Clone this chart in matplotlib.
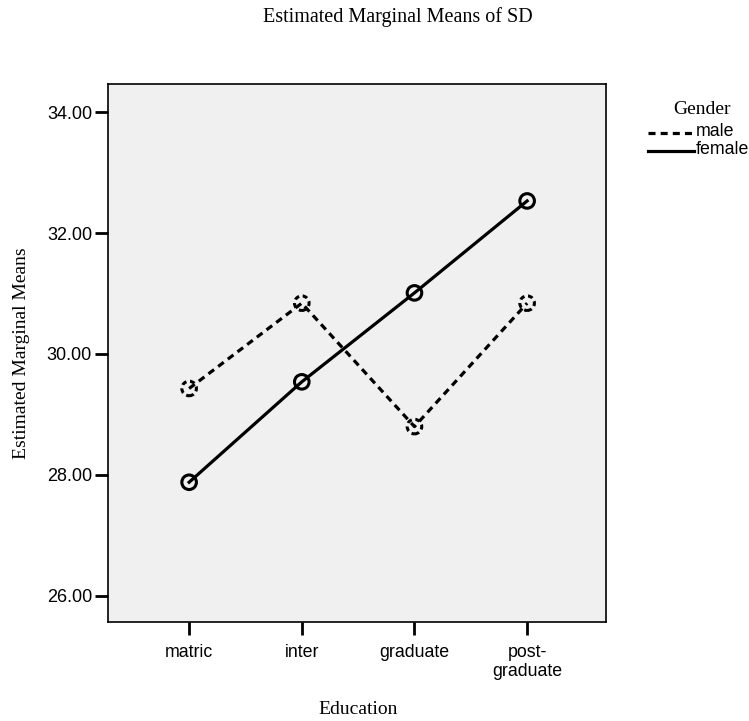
import matplotlib
matplotlib.use("Agg")
import matplotlib.pyplot as plt
from matplotlib.lines import Line2D

categories = ["matric", "inter", "graduate", "post-\ngraduate"]
male = [29.43, 30.84, 28.80, 30.84]
female = [27.88, 29.54, 31.01, 32.53]
yticks = [26.0, 28.0, 30.0, 32.0, 34.0]

serif = "Liberation Serif"
sans = "Liberation Sans"

W, H = 749, 721
fig = plt.figure(figsize=(W / 100, H / 100), dpi=100)
ax = fig.add_axes([108 / W, 1 - 622 / H, (606 - 108) / W, (622 - 84) / H])
ax.set_facecolor("#F0F0F0")
x = list(range(len(categories)))

dash = (0, (2.2, 1.6))
ax.plot(x, male, color="black", lw=2.3, ls=dash, zorder=3)
ax.scatter(x, male, s=110, facecolors="none", edgecolors="black", linewidths=2.2,
           linestyles=(0, (1.6, 1.2)), zorder=4)
ax.plot(x, female, color="black", lw=2.3, ls="-", zorder=3)
ax.scatter(x, female, s=110, facecolors="none", edgecolors="black", linewidths=2.2, zorder=4)

ax.set_xlim(-0.72, 3.70)
ax.set_ylim(25.57, 34.463)
ax.set_xticks(x)
ax.set_xticklabels(categories, fontfamily=sans, fontsize=12.8, linespacing=1.2)
ax.set_yticks(yticks)
ax.set_yticklabels([f"{v:.2f}" for v in yticks], fontfamily=sans, fontsize=13)
ax.tick_params(axis="both", length=9.5, width=2, direction="out")
ax.tick_params(axis="x", pad=6)
ax.tick_params(axis="y", pad=2)
for s in ax.spines.values():
    s.set_linewidth(1.2)

fig.text(358 / W, 1 - 709 / H, "Education", fontfamily=serif, fontsize=14,
         ha="center", va="center")
fig.text(22 / W, 1 - 353 / H, "Estimated Marginal Means", fontfamily=serif, fontsize=14,
         ha="center", va="center", rotation=90)
fig.text(398 / W, 1 - 17 / H, "Estimated Marginal Means of SD", fontfamily=serif,
         fontsize=14.5, ha="center", va="center")

# legend
fig.text(702 / W, 1 - 110 / H, "Gender", fontfamily=serif, fontsize=14,
         ha="center", va="center")
fig.add_artist(Line2D([648 / W, 694 / W], [1 - 133 / H, 1 - 133 / H], color="black",
                      lw=2.3, ls=dash, transform=fig.transFigure))
fig.text(696 / W, 1 - 132 / H, "male", fontfamily=sans, fontsize=12.8, ha="left", va="center")
fig.add_artist(Line2D([648 / W, 694 / W], [1 - 151 / H, 1 - 151 / H], color="black",
                      lw=2.3, transform=fig.transFigure))
fig.text(696 / W, 1 - 150 / H, "female", fontfamily=sans, fontsize=12.8, ha="left", va="center")

fig.savefig("out.png", dpi=100)
